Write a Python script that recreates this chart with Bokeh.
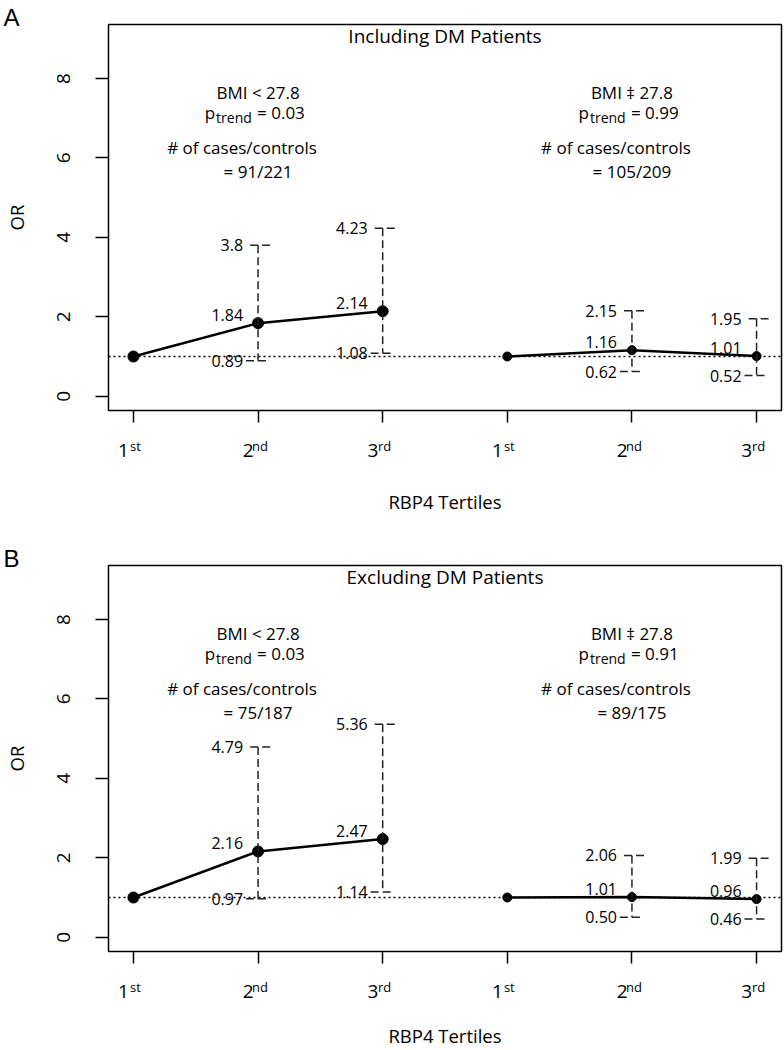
import math
from bokeh.plotting import figure
from bokeh.models import (Range1d, FixedTicker, Label, LabelSet, ColumnDataSource, Span,
                          LinearAxis)
from bokeh.layouts import column
from bokeh.embed import file_html
from bokeh.resources import INLINE
from bokeh.core.properties import value

FONT = "Open Sans"
LETTER_FONT = "Liberation Sans"

# ---------------- data ----------------
tertile_digits = ["1", "2", "3"]
tertile_sups = ["st", "nd", "rd"]
group_names = ["BMI < 27.8", "BMI \u2021 27.8"]
x_axis_title = "RBP4 Tertiles"
y_axis_title = "OR"

# Panel A: Including DM patients
a_title = "Including DM Patients"
a_low_or = [1.00, 1.84, 2.14]
a_low_lci = [0.89, 1.08]
a_low_uci = [3.8, 4.23]
a_low_or_txt = ["1.84", "2.14"]
a_low_lci_txt = ["0.89", "1.08"]
a_low_uci_txt = ["3.8", "4.23"]
a_low_ptrend = "0.03"
a_low_n = "91/221"

a_high_or = [1.00, 1.16, 1.01]
a_high_lci = [0.62, 0.52]
a_high_uci = [2.15, 1.95]
a_high_or_txt = ["1.16", "1.01"]
a_high_lci_txt = ["0.62", "0.52"]
a_high_uci_txt = ["2.15", "1.95"]
a_high_ptrend = "0.99"
a_high_n = "105/209"

# Panel B: Excluding DM patients
b_title = "Excluding DM Patients"
b_low_or = [1.00, 2.16, 2.47]
b_low_lci = [0.97, 1.14]
b_low_uci = [4.79, 5.36]
b_low_or_txt = ["2.16", "2.47"]
b_low_lci_txt = ["0.97", "1.14"]
b_low_uci_txt = ["4.79", "5.36"]
b_low_ptrend = "0.03"
b_low_n = "75/187"

b_high_or = [1.00, 1.01, 0.96]
b_high_lci = [0.50, 0.46]
b_high_uci = [2.06, 1.99]
b_high_or_txt = ["1.01", "0.96"]
b_high_lci_txt = ["0.50", "0.46"]
b_high_uci_txt = ["2.06", "1.99"]
b_high_ptrend = "0.91"
b_high_n = "89/175"

y_ticks = [0, 2, 4, 6, 8]
y_lim = (0, 9)

# ---------------- layout ----------------
W = 784
LEFT = 103
RIGHT = 3
TOP = 24
FRAME_W = W - LEFT - RIGHT

x_pos = [1, 2, 3, 4, 5, 6]
xpad = 0.04 * (x_pos[-1] - x_pos[0])
X_LO, X_HI = x_pos[0] - xpad, x_pos[-1] + xpad
ypad = 0.04 * (y_lim[1] - y_lim[0])
Y_LO, Y_HI = y_lim[0] - ypad, y_lim[1] + ypad
UPX = (X_HI - X_LO) / FRAME_W  # data units per pixel (x)

NBSP = "\u00a0"


def build_panel(letter, title, groups, height, bottom, title_standoff):
    p = figure(width=W, height=height, x_range=Range1d(X_LO, X_HI),
               y_range=Range1d(Y_LO, Y_HI), output_backend="svg",
               toolbar_location=None, title=letter,
               min_border_left=LEFT, min_border_right=RIGHT,
               min_border_top=TOP, min_border_bottom=bottom)
    p.grid.visible = False
    p.outline_line_color = "black"
    p.outline_line_width = 1.5
    p.outline_line_alpha = 1.0
    p.background_fill_color = "white"
    p.border_fill_color = "white"

    # panel letter as the figure title, pulled to the top-left corner
    p.title.text_font = LETTER_FONT
    p.title.text_font_size = "24px"
    p.title.text_font_style = "normal"
    p.title.text_color = "black"
    p.title.align = "left"
    p.title.vertical_align = "middle"
    p.title.standoff = -15
    p.title.offset = -LEFT - 2

    # x axis (tick marks + tertile digits)
    xa = p.xaxis[0]
    xa.ticker = FixedTicker(ticks=x_pos)
    xa.major_label_overrides = {x: d + NBSP * 4 for x, d in zip(x_pos, tertile_digits * 2)}
    xa.major_label_text_font = FONT
    xa.major_label_text_font_size = "19px"
    xa.major_label_text_color = "black"
    xa.major_tick_out = 12
    xa.major_tick_in = 0
    xa.major_tick_line_width = 1.5
    xa.major_tick_line_color = "black"
    xa.minor_tick_line_color = None
    xa.axis_line_color = None
    xa.major_label_standoff = 14

    # second x axis carrying the superscripts and the axis title
    p.extra_x_ranges = {"sup": Range1d(X_LO - 2 * UPX, X_HI - 2 * UPX)}
    sa = LinearAxis(x_range_name="sup", ticker=FixedTicker(ticks=x_pos))
    sa.major_label_overrides = {x: s for x, s in zip(x_pos, tertile_sups * 2)}
    sa.major_label_text_font = FONT
    sa.major_label_text_font_size = "13px"
    sa.major_label_text_color = "black"
    sa.major_tick_out = 0
    sa.major_tick_in = 0
    sa.major_tick_line_color = None
    sa.minor_tick_line_color = None
    sa.axis_line_color = None
    sa.major_label_standoff = -29
    sa.axis_label = x_axis_title
    sa.axis_label_text_font = FONT
    sa.axis_label_text_font_size = "18.5px"
    sa.axis_label_text_font_style = "normal"
    sa.axis_label_text_color = "black"
    sa.axis_label_standoff = title_standoff
    p.add_layout(sa, "below")

    # y axis
    ya = p.yaxis[0]
    ya.ticker = FixedTicker(ticks=y_ticks)
    ya.major_label_orientation = "vertical"
    ya.major_label_text_font = FONT
    ya.major_label_text_font_size = "19px"
    ya.major_label_text_color = "black"
    ya.major_tick_out = 13
    ya.major_tick_in = 0
    ya.major_tick_line_width = 1.5
    ya.major_tick_line_color = "black"
    ya.minor_tick_line_color = None
    ya.axis_line_color = None
    ya.major_label_standoff = 25
    ya.axis_label = y_axis_title
    ya.axis_label_text_font = FONT
    ya.axis_label_text_font_size = "18.5px"
    ya.axis_label_text_font_style = "normal"
    ya.axis_label_text_color = "black"
    ya.axis_label_standoff = 26

    # reference line OR = 1
    p.add_layout(Span(location=1, dimension="width", line_color="black", line_width=1.3,
                      line_dash="2 3", level="underlay"))

    # panel title
    p.add_layout(Label(x=(X_LO + X_HI) / 2, y=Y_HI, y_offset=-11, text=title,
                       text_align="center", text_baseline="middle",
                       text_font=FONT, text_font_size="19px", text_color="black"))

    for g in groups:
        xs = g["x"]
        c = xs[1]
        p.line(xs, g["or"], line_color="black", line_width=2.5)
        p.scatter(xs, g["or"], size=g["size"], color="black")
        xci = xs[1:]
        src = ColumnDataSource(dict(
            x=xci, lo=g["lci"], hi=g["uci"], est=g["or"][1:],
            ux0=[x - 8 * UPX for x in xci], ux1=[x + 16 * UPX for x in xci],
            lx0=[x + 8 * UPX for x in xci], lx1=[x - 16 * UPX for x in xci],
            est_t=g["or_txt"], lo_t=g["lci_txt"], hi_t=g["uci_txt"]))
        dash = dict(line_color="#222222", line_width=1.5, line_dash="8 4")
        p.segment(x0="x", y0="hi", x1="x", y1="lo", source=src, **dash)
        p.segment(x0="ux0", y0="hi", x1="ux1", y1="hi", source=src, **dash)
        p.segment(x0="lx0", y0="lo", x1="lx1", y1="lo", source=src, **dash)
        common = dict(source=src, x="x", x_offset=-15, text_align="right",
                      text_baseline="middle", text_font=value(FONT),
                      text_font_size="16px", text_color="black")
        p.add_layout(LabelSet(y="est", text="est_t", y_offset=8, **common))
        p.add_layout(LabelSet(y="hi", text="hi_t", **common))
        p.add_layout(LabelSet(y="lo", text="lo_t", **common))

        tf = dict(text_font=FONT, text_color="black", text_baseline="middle")
        p.add_layout(Label(x=c, y=7.64, text=g["name"], text_align="center",
                           text_font_size="17px", **tf))
        p.add_layout(Label(x=c, y=7.15, x_offset=-43, text="p", text_align="right",
                           text_font_size="17px", **tf))
        p.add_layout(Label(x=c, y=7.15, x_offset=-42, y_offset=-5, text="trend",
                           text_align="left", text_font_size="14px", **tf))
        p.add_layout(Label(x=c, y=7.15, x_offset=-1, text="= " + g["ptrend"],
                           text_align="left", text_font_size="17px", **tf))
        p.add_layout(Label(x=c, y=6.27, x_offset=-16, text="# of cases/controls",
                           text_align="center", text_font_size="17px", **tf))
        p.add_layout(Label(x=c, y=5.66, text="= " + g["n"], text_align="center",
                           text_font_size="17px", **tf))
    return p


def group(name, xs, or_, lci, uci, or_txt, lci_txt, uci_txt, ptrend, n, size):
    return dict(name=name, x=xs, **{"or": or_}, lci=lci, uci=uci, or_txt=or_txt,
                lci_txt=lci_txt, uci_txt=uci_txt, ptrend=ptrend, n=n, size=size)


groups_a = [
    group(group_names[0], x_pos[:3], a_low_or, a_low_lci, a_low_uci, a_low_or_txt,
          a_low_lci_txt, a_low_uci_txt, a_low_ptrend, a_low_n, 11),
    group(group_names[1], x_pos[3:], a_high_or, a_high_lci, a_high_uci, a_high_or_txt,
          a_high_lci_txt, a_high_uci_txt, a_high_ptrend, a_high_n, 9),
]
groups_b = [
    group(group_names[0], x_pos[:3], b_low_or, b_low_lci, b_low_uci, b_low_or_txt,
          b_low_lci_txt, b_low_uci_txt, b_low_ptrend, b_low_n, 11),
    group(group_names[1], x_pos[3:], b_high_or, b_high_lci, b_high_uci, b_high_or_txt,
          b_high_lci_txt, b_high_uci_txt, b_high_ptrend, b_high_n, 9),
]

pa = build_panel("A", a_title, groups_a, height=541, bottom=131, title_standoff=31)
pb = build_panel("B", b_title, groups_b, height=509, bottom=98, title_standoff=24)

layout = column(pa, pb, spacing=0)
open("out.html", "w").write(file_html(layout, INLINE))
